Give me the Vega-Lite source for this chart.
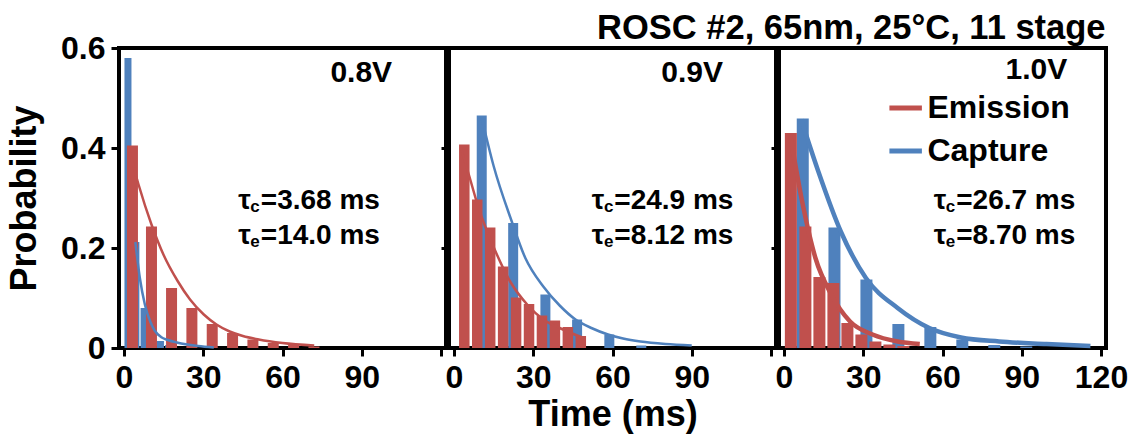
{
  "$schema": "https://vega.github.io/schema/vega-lite/v6.json",
  "background": "white",
  "padding": {"left": 4, "top": 10, "right": 5, "bottom": 5},
  "title": {"text": "ROSC #2, 65nm, 25°C, 11 stage", "anchor": "start", "frame": "group", "dx": 478, "fontSize": 34.5, "font": "Liberation Sans", "fontWeight": "bold", "color": "black", "offset": -16},
  "bounds": "flush",
  "spacing": 3,
  "datasets": {
    "bars": [
      {"panel": "0.8V", "series": "Capture", "t": 1.5, "p": 0.58},
      {"panel": "0.8V", "series": "Capture", "t": 4.5, "p": 0.212},
      {"panel": "0.8V", "series": "Capture", "t": 7.6, "p": 0.08},
      {"panel": "0.8V", "series": "Capture", "t": 10.7, "p": 0.033},
      {"panel": "0.8V", "series": "Capture", "t": 13.8, "p": 0.014},
      {"panel": "0.8V", "series": "Capture", "t": 16.9, "p": 0.006},
      {"panel": "0.8V", "series": "Emission", "t": 3.2, "p": 0.405},
      {"panel": "0.8V", "series": "Emission", "t": 10.4, "p": 0.243},
      {"panel": "0.8V", "series": "Emission", "t": 18.0, "p": 0.12},
      {"panel": "0.8V", "series": "Emission", "t": 25.7, "p": 0.08},
      {"panel": "0.8V", "series": "Emission", "t": 33.4, "p": 0.048},
      {"panel": "0.8V", "series": "Emission", "t": 41.1, "p": 0.03},
      {"panel": "0.8V", "series": "Emission", "t": 48.8, "p": 0.017},
      {"panel": "0.8V", "series": "Emission", "t": 56.5, "p": 0.01},
      {"panel": "0.8V", "series": "Emission", "t": 64.2, "p": 0.006},
      {"panel": "0.8V", "series": "Emission", "t": 71.9, "p": 0.003},
      {"panel": "0.9V", "series": "Capture", "t": 10.5, "p": 0.465},
      {"panel": "0.9V", "series": "Capture", "t": 22.4, "p": 0.25},
      {"panel": "0.9V", "series": "Capture", "t": 34.6, "p": 0.107},
      {"panel": "0.9V", "series": "Capture", "t": 46.6, "p": 0.057},
      {"panel": "0.9V", "series": "Capture", "t": 58.8, "p": 0.027},
      {"panel": "0.9V", "series": "Capture", "t": 70.9, "p": 0.005},
      {"panel": "0.9V", "series": "Emission", "t": 3.9, "p": 0.407},
      {"panel": "0.9V", "series": "Emission", "t": 8.8, "p": 0.297},
      {"panel": "0.9V", "series": "Emission", "t": 13.7, "p": 0.241},
      {"panel": "0.9V", "series": "Emission", "t": 18.6, "p": 0.163},
      {"panel": "0.9V", "series": "Emission", "t": 23.5, "p": 0.101},
      {"panel": "0.9V", "series": "Emission", "t": 28.4, "p": 0.088},
      {"panel": "0.9V", "series": "Emission", "t": 33.3, "p": 0.065},
      {"panel": "0.9V", "series": "Emission", "t": 38.2, "p": 0.055},
      {"panel": "0.9V", "series": "Emission", "t": 43.1, "p": 0.042},
      {"panel": "0.9V", "series": "Emission", "t": 48.0, "p": 0.024},
      {"panel": "1.0V", "series": "Capture", "t": 7.1, "p": 0.459},
      {"panel": "1.0V", "series": "Capture", "t": 19.1, "p": 0.241},
      {"panel": "1.0V", "series": "Capture", "t": 31.2, "p": 0.137},
      {"panel": "1.0V", "series": "Capture", "t": 43.3, "p": 0.048},
      {"panel": "1.0V", "series": "Capture", "t": 55.4, "p": 0.042},
      {"panel": "1.0V", "series": "Capture", "t": 67.5, "p": 0.017},
      {"panel": "1.0V", "series": "Capture", "t": 79.6, "p": 0.006},
      {"panel": "1.0V", "series": "Capture", "t": 91.7, "p": 0.003},
      {"panel": "1.0V", "series": "Emission", "t": 2.6, "p": 0.43},
      {"panel": "1.0V", "series": "Emission", "t": 8.1, "p": 0.243},
      {"panel": "1.0V", "series": "Emission", "t": 13.4, "p": 0.142},
      {"panel": "1.0V", "series": "Emission", "t": 18.7, "p": 0.13},
      {"panel": "1.0V", "series": "Emission", "t": 24.0, "p": 0.05},
      {"panel": "1.0V", "series": "Emission", "t": 29.3, "p": 0.027},
      {"panel": "1.0V", "series": "Emission", "t": 34.6, "p": 0.013},
      {"panel": "1.0V", "series": "Emission", "t": 39.9, "p": 0.007},
      {"panel": "1.0V", "series": "Emission", "t": 45.2, "p": 0.004}
    ],
    "fits": [
      {"panel": "0.8V", "series": "Capture", "t": 4.3, "p": 0.212},
      {"panel": "0.8V", "series": "Capture", "t": 6.0, "p": 0.14},
      {"panel": "0.8V", "series": "Capture", "t": 7.9, "p": 0.087},
      {"panel": "0.8V", "series": "Capture", "t": 10.0, "p": 0.052},
      {"panel": "0.8V", "series": "Capture", "t": 11.6, "p": 0.035},
      {"panel": "0.8V", "series": "Capture", "t": 14.0, "p": 0.022},
      {"panel": "0.8V", "series": "Capture", "t": 16.6, "p": 0.016},
      {"panel": "0.8V", "series": "Capture", "t": 20.0, "p": 0.011},
      {"panel": "0.8V", "series": "Capture", "t": 24.0, "p": 0.007},
      {"panel": "0.8V", "series": "Capture", "t": 28.0, "p": 0.004},
      {"panel": "0.8V", "series": "Capture", "t": 34.0, "p": 0.001},
      {"panel": "0.8V", "series": "Emission", "t": 1.7, "p": 0.4},
      {"panel": "0.8V", "series": "Emission", "t": 5.5, "p": 0.327},
      {"panel": "0.8V", "series": "Emission", "t": 10.4, "p": 0.247},
      {"panel": "0.8V", "series": "Emission", "t": 15.0, "p": 0.186},
      {"panel": "0.8V", "series": "Emission", "t": 20.3, "p": 0.134},
      {"panel": "0.8V", "series": "Emission", "t": 25.0, "p": 0.097},
      {"panel": "0.8V", "series": "Emission", "t": 30.2, "p": 0.067},
      {"panel": "0.8V", "series": "Emission", "t": 35.0, "p": 0.047},
      {"panel": "0.8V", "series": "Emission", "t": 40.0, "p": 0.033},
      {"panel": "0.8V", "series": "Emission", "t": 45.0, "p": 0.024},
      {"panel": "0.8V", "series": "Emission", "t": 51.0, "p": 0.017},
      {"panel": "0.8V", "series": "Emission", "t": 60.0, "p": 0.01},
      {"panel": "0.8V", "series": "Emission", "t": 72.0, "p": 0.005},
      {"panel": "0.9V", "series": "Capture", "t": 10.5, "p": 0.46},
      {"panel": "0.9V", "series": "Capture", "t": 15.0, "p": 0.364},
      {"panel": "0.9V", "series": "Capture", "t": 21.6, "p": 0.257},
      {"panel": "0.9V", "series": "Capture", "t": 27.0, "p": 0.18},
      {"panel": "0.9V", "series": "Capture", "t": 33.8, "p": 0.123},
      {"panel": "0.9V", "series": "Capture", "t": 40.0, "p": 0.085},
      {"panel": "0.9V", "series": "Capture", "t": 46.0, "p": 0.057},
      {"panel": "0.9V", "series": "Capture", "t": 52.0, "p": 0.04},
      {"panel": "0.9V", "series": "Capture", "t": 58.3, "p": 0.027},
      {"panel": "0.9V", "series": "Capture", "t": 64.0, "p": 0.019},
      {"panel": "0.9V", "series": "Capture", "t": 70.6, "p": 0.013},
      {"panel": "0.9V", "series": "Capture", "t": 80.0, "p": 0.008},
      {"panel": "0.9V", "series": "Capture", "t": 90.0, "p": 0.005},
      {"panel": "0.9V", "series": "Emission", "t": 2.6, "p": 0.4},
      {"panel": "0.9V", "series": "Emission", "t": 5.6, "p": 0.347},
      {"panel": "0.9V", "series": "Emission", "t": 9.3, "p": 0.28},
      {"panel": "0.9V", "series": "Emission", "t": 15.4, "p": 0.197},
      {"panel": "0.9V", "series": "Emission", "t": 21.6, "p": 0.13},
      {"panel": "0.9V", "series": "Emission", "t": 27.7, "p": 0.087},
      {"panel": "0.9V", "series": "Emission", "t": 33.8, "p": 0.057},
      {"panel": "0.9V", "series": "Emission", "t": 40.0, "p": 0.04},
      {"panel": "0.9V", "series": "Emission", "t": 49.0, "p": 0.02},
      {"panel": "1.0V", "series": "Capture", "t": 6.5, "p": 0.457},
      {"panel": "1.0V", "series": "Capture", "t": 13.0, "p": 0.353},
      {"panel": "1.0V", "series": "Capture", "t": 21.5, "p": 0.233},
      {"panel": "1.0V", "series": "Capture", "t": 31.0, "p": 0.14},
      {"panel": "1.0V", "series": "Capture", "t": 43.0, "p": 0.08},
      {"panel": "1.0V", "series": "Capture", "t": 55.0, "p": 0.04},
      {"panel": "1.0V", "series": "Capture", "t": 67.0, "p": 0.021},
      {"panel": "1.0V", "series": "Capture", "t": 81.4, "p": 0.013},
      {"panel": "1.0V", "series": "Capture", "t": 99.4, "p": 0.008},
      {"panel": "1.0V", "series": "Capture", "t": 116.0, "p": 0.004},
      {"panel": "1.0V", "series": "Emission", "t": 2.3, "p": 0.427},
      {"panel": "1.0V", "series": "Emission", "t": 7.1, "p": 0.287},
      {"panel": "1.0V", "series": "Emission", "t": 11.9, "p": 0.18},
      {"panel": "1.0V", "series": "Emission", "t": 17.9, "p": 0.107},
      {"panel": "1.0V", "series": "Emission", "t": 25.0, "p": 0.053},
      {"panel": "1.0V", "series": "Emission", "t": 33.5, "p": 0.027},
      {"panel": "1.0V", "series": "Emission", "t": 43.0, "p": 0.013},
      {"panel": "1.0V", "series": "Emission", "t": 51.4, "p": 0.008}
    ],
    "volts": [
      {"panel": "0.8V", "t": 101.5, "p": 0.55, "label": "0.8V"},
      {"panel": "0.9V", "t": 101.8, "p": 0.55, "label": "0.9V"},
      {"panel": "1.0V", "t": 107.2, "p": 0.556, "label": "1.0V"}
    ],
    "taus": [
      {"panel": "0.8V", "t": 51.8, "p": 0.279, "sub": "c", "rest": "=3.68 ms"},
      {"panel": "0.8V", "t": 51.8, "p": 0.208, "sub": "e", "rest": "=14.0 ms"},
      {"panel": "0.9V", "t": 60.7, "p": 0.279, "sub": "c", "rest": "=24.9 ms"},
      {"panel": "0.9V", "t": 60.7, "p": 0.208, "sub": "e", "rest": "=8.12 ms"},
      {"panel": "1.0V", "t": 65.2, "p": 0.279, "sub": "c", "rest": "=26.7 ms"},
      {"panel": "1.0V", "t": 65.2, "p": 0.208, "sub": "e", "rest": "=8.70 ms"}
    ],
    "legend": [
      {"series": "Emission", "t": 39.9, "t2": 52.2, "tl": 54.3, "p": 0.48},
      {"series": "Capture", "t": 39.9, "t2": 52.2, "tl": 54.3, "p": 0.394}
    ]
  },
  "hconcat": [
    {
      "width": 327, "height": 300,
      "encoding": {
        "x": {"field": "t", "type": "quantitative", "scale": {"domain": [0, 120], "nice": false, "zero": false}, "axis": {"values": [0, 30, 60, 90, 120], "labelExpr": "datum.value == 120 ? '' : datum.label", "title": null, "labelFlush": false, "labelOverlap": false, "labelPadding": 6}},
        "y": {"field": "p", "type": "quantitative", "scale": {"domain": [0, 0.6], "nice": false}, "axis": {"values": [0, 0.2, 0.4, 0.6], "labelExpr": "datum.value == 0 ? '0' : format(datum.value, '.1f')", "title": "Probability", "titlePadding": 17, "labelPadding": 6, "labelFlush": false, "labelOverlap": false}}
      },
      "layer": [
        {"data": {"name": "bars"}, "transform": [{"filter": "datum.panel == '0.8V' && datum.series == 'Capture'"}], "mark": {"type": "bar", "size": 7, "color": "#4F81BD"}},
        {"data": {"name": "bars"}, "transform": [{"filter": "datum.panel == '0.8V' && datum.series == 'Emission'"}], "mark": {"type": "bar", "size": 11, "color": "#C0504D"}},
        {"data": {"name": "fits"}, "transform": [{"filter": "datum.panel == '0.8V' && datum.series == 'Capture'"}], "mark": {"type": "line", "strokeWidth": 2.5, "color": "#4F81BD", "interpolate": "monotone"}},
        {"data": {"name": "fits"}, "transform": [{"filter": "datum.panel == '0.8V' && datum.series == 'Emission'"}], "mark": {"type": "line", "strokeWidth": 2.5, "color": "#C0504D", "interpolate": "monotone"}},
        {"data": {"name": "volts"}, "transform": [{"filter": "datum.panel == '0.8V'"}], "mark": {"type": "text", "align": "right", "baseline": "middle", "fontSize": 30, "fontWeight": "bold", "font": "Liberation Sans", "color": "black"}, "encoding": {"text": {"field": "label"}}},
        {"data": {"name": "taus"}, "transform": [{"filter": "datum.panel == '0.8V'"}], "mark": {"type": "text", "align": "right", "baseline": "alphabetic", "dx": -10, "fontSize": 28, "fontWeight": "bold", "font": "Liberation Sans", "color": "black", "text": "τ"}},
        {"data": {"name": "taus"}, "transform": [{"filter": "datum.panel == '0.8V'"}], "mark": {"type": "text", "align": "right", "baseline": "alphabetic", "dx": -1, "dy": 3, "fontSize": 17, "fontWeight": "bold", "font": "Liberation Sans", "color": "black"}, "encoding": {"text": {"field": "sub"}}},
        {"data": {"name": "taus"}, "transform": [{"filter": "datum.panel == '0.8V'"}], "mark": {"type": "text", "align": "left", "baseline": "alphabetic", "fontSize": 28, "fontWeight": "bold", "font": "Liberation Sans", "color": "black"}, "encoding": {"text": {"field": "rest"}}}
      ]
    },
    {
      "width": 327, "height": 300,
      "encoding": {
        "x": {"field": "t", "type": "quantitative", "scale": {"domain": [0, 120], "nice": false, "zero": false}, "axis": {"values": [0, 30, 60, 90, 120], "labelExpr": "datum.value == 120 ? '' : datum.label", "title": "Time (ms)", "titlePadding": 4, "labelFlush": false, "labelOverlap": false, "labelPadding": 6}},
        "y": {"field": "p", "type": "quantitative", "scale": {"domain": [0, 0.6], "nice": false}, "axis": {"values": [0, 0.2, 0.4, 0.6], "labels": false, "title": null}}
      },
      "layer": [
        {"data": {"name": "bars"}, "transform": [{"filter": "datum.panel == '0.9V' && datum.series == 'Capture'"}], "mark": {"type": "bar", "size": 10, "color": "#4F81BD"}},
        {"data": {"name": "bars"}, "transform": [{"filter": "datum.panel == '0.9V' && datum.series == 'Emission'"}], "mark": {"type": "bar", "size": 10.5, "color": "#C0504D"}},
        {"data": {"name": "fits"}, "transform": [{"filter": "datum.panel == '0.9V' && datum.series == 'Capture'"}], "mark": {"type": "line", "strokeWidth": 2.5, "color": "#4F81BD", "interpolate": "monotone"}},
        {"data": {"name": "fits"}, "transform": [{"filter": "datum.panel == '0.9V' && datum.series == 'Emission'"}], "mark": {"type": "line", "strokeWidth": 2.5, "color": "#C0504D", "interpolate": "monotone"}},
        {"data": {"name": "volts"}, "transform": [{"filter": "datum.panel == '0.9V'"}], "mark": {"type": "text", "align": "right", "baseline": "middle", "fontSize": 30, "fontWeight": "bold", "font": "Liberation Sans", "color": "black"}, "encoding": {"text": {"field": "label"}}},
        {"data": {"name": "taus"}, "transform": [{"filter": "datum.panel == '0.9V'"}], "mark": {"type": "text", "align": "right", "baseline": "alphabetic", "dx": -10, "fontSize": 28, "fontWeight": "bold", "font": "Liberation Sans", "color": "black", "text": "τ"}},
        {"data": {"name": "taus"}, "transform": [{"filter": "datum.panel == '0.9V'"}], "mark": {"type": "text", "align": "right", "baseline": "alphabetic", "dx": -1, "dy": 3, "fontSize": 17, "fontWeight": "bold", "font": "Liberation Sans", "color": "black"}, "encoding": {"text": {"field": "sub"}}},
        {"data": {"name": "taus"}, "transform": [{"filter": "datum.panel == '0.9V'"}], "mark": {"type": "text", "align": "left", "baseline": "alphabetic", "fontSize": 28, "fontWeight": "bold", "font": "Liberation Sans", "color": "black"}, "encoding": {"text": {"field": "rest"}}}
      ]
    },
    {
      "width": 327, "height": 300,
      "encoding": {
        "x": {"field": "t", "type": "quantitative", "scale": {"domain": [0, 120], "nice": false, "zero": false}, "axis": {"values": [0, 30, 60, 90, 120], "title": null, "labelFlush": false, "labelOverlap": false, "labelPadding": 6}},
        "y": {"field": "p", "type": "quantitative", "scale": {"domain": [0, 0.6], "nice": false}, "axis": {"values": [0, 0.2, 0.4, 0.6], "labels": false, "title": null}}
      },
      "layer": [
        {"data": {"name": "bars"}, "transform": [{"filter": "datum.panel == '1.0V' && datum.series == 'Capture'"}], "mark": {"type": "bar", "size": 12, "color": "#4F81BD"}},
        {"data": {"name": "bars"}, "transform": [{"filter": "datum.panel == '1.0V' && datum.series == 'Emission'"}], "mark": {"type": "bar", "size": 12, "color": "#C0504D"}},
        {"data": {"name": "fits"}, "transform": [{"filter": "datum.panel == '1.0V' && datum.series == 'Capture'"}], "mark": {"type": "line", "strokeWidth": 4.5, "color": "#4F81BD", "interpolate": "monotone"}},
        {"data": {"name": "fits"}, "transform": [{"filter": "datum.panel == '1.0V' && datum.series == 'Emission'"}], "mark": {"type": "line", "strokeWidth": 4.5, "color": "#C0504D", "interpolate": "monotone"}},
        {"data": {"name": "legend"}, "mark": {"type": "rule", "strokeWidth": 5}, "encoding": {"x2": {"field": "t2"}, "color": {"field": "series", "type": "nominal", "scale": {"domain": ["Emission", "Capture"], "range": ["#C0504D", "#4F81BD"]}, "legend": null}}},
        {"data": {"name": "legend"}, "mark": {"type": "text", "align": "left", "baseline": "middle", "fontSize": 32, "fontWeight": "bold", "font": "Liberation Sans", "color": "black"}, "encoding": {"x": {"field": "tl", "type": "quantitative"}, "text": {"field": "series"}}},
        {"data": {"name": "volts"}, "transform": [{"filter": "datum.panel == '1.0V'"}], "mark": {"type": "text", "align": "right", "baseline": "middle", "fontSize": 30, "fontWeight": "bold", "font": "Liberation Sans", "color": "black"}, "encoding": {"text": {"field": "label"}}},
        {"data": {"name": "taus"}, "transform": [{"filter": "datum.panel == '1.0V'"}], "mark": {"type": "text", "align": "right", "baseline": "alphabetic", "dx": -10, "fontSize": 28, "fontWeight": "bold", "font": "Liberation Sans", "color": "black", "text": "τ"}},
        {"data": {"name": "taus"}, "transform": [{"filter": "datum.panel == '1.0V'"}], "mark": {"type": "text", "align": "right", "baseline": "alphabetic", "dx": -1, "dy": 3, "fontSize": 17, "fontWeight": "bold", "font": "Liberation Sans", "color": "black"}, "encoding": {"text": {"field": "sub"}}},
        {"data": {"name": "taus"}, "transform": [{"filter": "datum.panel == '1.0V'"}], "mark": {"type": "text", "align": "left", "baseline": "alphabetic", "fontSize": 28, "fontWeight": "bold", "font": "Liberation Sans", "color": "black"}, "encoding": {"text": {"field": "rest"}}}
      ]
    }
  ],
  "config": {
    "font": "Liberation Sans",
    "view": {"stroke": "black", "strokeWidth": 4},
    "axis": {"grid": false, "domain": false, "ticks": true, "tickColor": "black", "tickWidth": 3, "tickSize": 8, "labelFont": "Liberation Sans", "labelFontSize": 32, "labelFontWeight": "bold", "labelColor": "black", "titleFont": "Liberation Sans", "titleFontSize": 36, "titleFontWeight": "bold", "titleColor": "black"}
  }
}
